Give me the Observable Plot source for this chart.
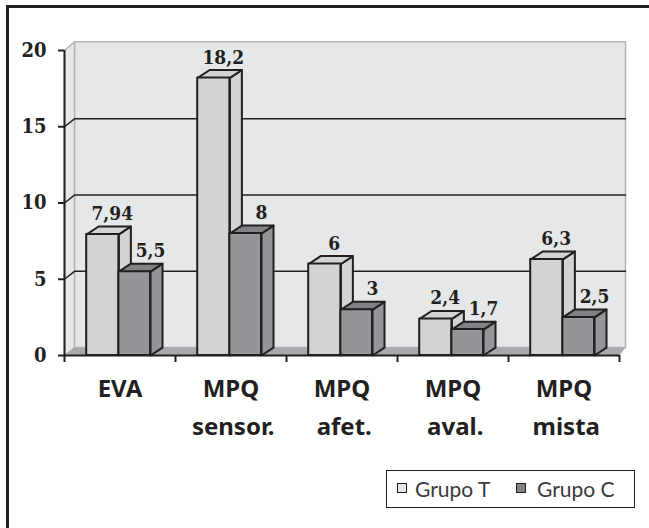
<!DOCTYPE html>
<html><head><meta charset="utf-8">
<script src="https://cdn.jsdelivr.net/npm/d3@7"></script>
<script src="https://cdn.jsdelivr.net/npm/@observablehq/plot@0.6"></script>
<style>
html,body{margin:0;padding:0;background:#fff;}
#wrap{position:relative;width:649px;height:528px;overflow:hidden;}
#frame{position:absolute;left:6px;top:5px;width:660px;height:560px;border-left:3px solid #231f20;border-top:3px solid #231f20;box-sizing:border-box;}
#chart{position:absolute;left:0;top:0;}
#legend{position:absolute;left:386px;top:470px;width:249px;height:38px;box-sizing:border-box;border:1.5px solid #231f20;background:#fff;font:21px Lato,sans-serif;color:#3a3a3c;}
#legend i{position:absolute;top:12px;width:8px;height:8px;border:1.5px solid #231f20;box-sizing:content-box;}
#legend span{position:absolute;top:5px;white-space:nowrap;}
</style></head><body>
<div id="wrap"><div id="frame"></div><div id="chart"></div>
<div id="legend"><i style="left:10px;background:#e6e7e8"></i><span style="left:28px">Grupo T</span><i style="left:129px;background:#808285"></i><span style="left:150px">Grupo C</span></div>
</div>
<script>
const line1 = ["EVA","MPQ","MPQ","MPQ","MPQ"];
const line2 = ["","sensor.","afet.","aval.","mista"];
const grupoT = [7.94,18.2,6,2.4,6.3];
const grupoC = [5.5,8,3,1.7,2.5];
const labelsT = ["7,94","18,2","6","2,4","6,3"];
const labelsC = ["5,5","8","3","1,7","2,5"];
const yTicks = [0,5,10,15,20];
const xTicks = [0,1,2,3,4,5];
const gridVals = [5,10,15];

const ink = "#231f20";
const dx = 0.108, dy = 0.52;
const backL = 0.09, backR = 5.054, backTop = 20.57;
const sans = "'Noto Sans',sans-serif";
const serif = "'DejaVu Serif Condensed','DejaVu Serif',serif";

function bars(values, start, width, name){
  return values.map((v,i)=>({i, v, name, x1:i+start, x2:i+start+width}));
}
const T = bars(grupoT,0.2,0.29,"T");
const C = bars(grupoC,0.49,0.285,"C");

function faces(rows, sideFill, topFill){
  const out=[];
  for(const b of rows){
    const s=`s${b.i}`, t=`t${b.i}`;
    [[b.x2,0],[b.x2+dx,dy],[b.x2+dx,b.v+dy],[b.x2,b.v]].forEach(([x,y])=>out.push({x,y,z:s,fill:sideFill}));
    [[b.x1,b.v],[b.x1+dx,b.v+dy],[b.x2+dx,b.v+dy],[b.x2,b.v]].forEach(([x,y])=>out.push({x,y,z:t,fill:topFill}));
  }
  return out;
}
function poly(points,opts){
  return Plot.line(points.map(([x,y])=>({x,y})),{x:"x",y:"y",curve:"linear-closed",...opts});
}
const grid = gridVals.flatMap(v=>[[0,v],[backL,v+dy],[backR,v+dy]].map(([x,y])=>({x,y,z:v})));

const barStroke = {stroke:ink,strokeWidth:2,strokeLinejoin:"round"};
const plot = Plot.plot({
  width:649,height:528,
  marginLeft:64,marginRight:30,marginTop:50,marginBottom:173,
  x:{domain:[0,5],axis:null},
  y:{domain:[0,20],axis:null},
  color:{type:"identity"},
  style:{background:"transparent",overflow:"visible"},
  marks:[
    poly([[backL,dy],[backL,backTop],[backR,backTop],[backR,dy]],{fill:"#e6e7e8",stroke:"#b1b3b6",strokeWidth:1.5}),
    poly([[0,0],[backL,dy],[backL,backTop],[0,20]],{fill:"#e6e7e8",stroke:"#b1b3b6",strokeWidth:1.5}),
    poly([[0,0],[backL,dy],[backR,dy],[5,0]],{fill:"#a7a9ac"}),
    Plot.line(grid,{x:"x",y:"y",z:"z",stroke:ink,strokeWidth:1.5}),
    Plot.line(faces(T,"#d1d3d4","#d1d3d4"),{x:"x",y:"y",z:"z",fill:"fill",curve:"linear-closed",...barStroke}),
    Plot.rect(T,{x1:"x1",x2:"x2",y1:0,y2:"v",fill:"#d1d3d4",...barStroke}),
    Plot.line(faces(C,"#939598","#808285"),{x:"x",y:"y",z:"z",fill:"fill",curve:"linear-closed",...barStroke}),
    Plot.rect(C,{x1:"x1",x2:"x2",y1:0,y2:"v",fill:"#939598",...barStroke}),
    Plot.text(T,{x:d=>d.x1+0.23,y:"v",text:d=>labelsT[d.i],dy:-20.5,fontSize:19,fontWeight:"bold",fontFamily:serif,fill:ink}),
    Plot.text(C,{x:d=>d.x1+0.285,y:"v",text:d=>labelsC[d.i],dy:-20.5,fontSize:19,fontWeight:"bold",fontFamily:serif,fill:ink}),
    Plot.ruleX([0],{y1:0,y2:20,stroke:ink,strokeWidth:2}),
    Plot.ruleY([0],{x1:0,x2:5,stroke:ink,strokeWidth:2}),
    Plot.axisY({ticks:yTicks,tickSize:6,tickPadding:12,label:null,fontSize:20,fontWeight:"bold",fontFamily:serif,stroke:ink,strokeWidth:2,color:ink}),
    Plot.axisX({ticks:xTicks,tickSize:7,tickFormat:()=>"",label:null,stroke:ink,strokeWidth:2}),
    Plot.text(line1,{x:(d,i)=>i+0.5,y:()=>0,text:d=>d,dy:34,fontSize:24,fontWeight:"bold",fontFamily:sans,fill:ink}),
    Plot.text(line2,{x:(d,i)=>i+0.52,y:()=>0,text:d=>d,dy:72,fontSize:24,fontWeight:"bold",fontFamily:sans,fill:ink})
  ]
});
document.getElementById("chart").append(plot);
</script>
</body></html>
